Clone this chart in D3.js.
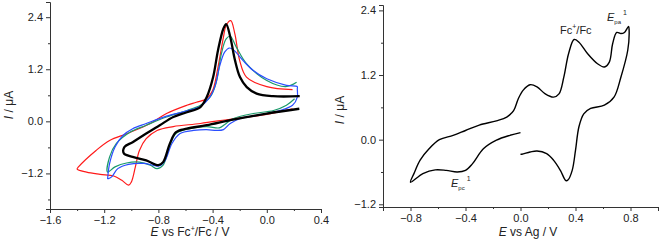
<!DOCTYPE html>
<html>
<head>
<meta charset="utf-8">
<script src="https://cdn.jsdelivr.net/npm/d3@7"></script>
<style>
  body { margin: 0; background: #fff; }
  svg text { font-family: "Liberation Sans", Arial, sans-serif; fill: #222; }
</style>
</head>
<body>
<div id="chart"></div>
<script>
/* left panel: CVs vs Fc+/Fc, each [E (V), I (uA)] along the trace */
var blackCV = [[0.24,0.29],[0.0,0.18],[-0.25,0.04],[-0.445,-0.09],[-0.59,-0.17],[-0.67,-0.25],[-0.715,-0.51],
  [-0.765,-0.94],[-0.80,-1.01],[-0.89,-0.90],[-0.99,-0.82],[-1.055,-0.74],[-1.05,-0.59],[-0.99,-0.48],
  [-0.89,-0.28],[-0.79,-0.09],[-0.69,0.10],[-0.59,0.21],[-0.49,0.33],[-0.443,0.56],[-0.396,1.02],
  [-0.36,1.64],[-0.32,2.14],[-0.30,2.24],[-0.27,1.95],[-0.235,1.41],[-0.198,1.02],[-0.148,0.79],
  [-0.075,0.64],[0.046,0.58],[0.243,0.58]]
var redCV = [[0.19,0.29],[0.0,0.16],[-0.25,0.06],[-0.49,-0.05],[-0.69,-0.12],[-0.81,-0.21],[-0.89,-0.40],
  [-0.94,-0.67],[-0.97,-1.05],[-1.0,-1.40],[-1.02,-1.47],[-1.07,-1.36],[-1.13,-1.26],[-1.23,-1.22],
  [-1.33,-1.17],[-1.40,-1.10],[-1.39,-1.05],[-1.26,-0.67],[-1.16,-0.44],[-1.03,-0.28],[-0.86,-0.05],
  [-0.74,0.18],[-0.59,0.37],[-0.52,0.44],[-0.445,0.52],[-0.40,0.71],[-0.36,1.25],[-0.32,1.94],
  [-0.30,2.21],[-0.266,2.32],[-0.236,2.02],[-0.20,1.40],[-0.15,1.02],[0.0,0.80],[0.19,0.73]]
var greenCV = [[0.205,0.52],[0.145,0.37],[0.05,0.25],[-0.10,0.18],[-0.25,0.06],[-0.31,-0.07],[-0.35,-0.15],
  [-0.445,-0.12],[-0.57,-0.17],[-0.67,-0.28],[-0.715,-0.55],[-0.765,-1.01],[-0.81,-1.09],[-0.86,-1.01],
  [-0.94,-0.94],[-1.035,-0.96],[-1.12,-1.05],[-1.175,-1.17],[-1.16,-0.82],[-1.11,-0.51],[-1.01,-0.25],
  [-0.89,-0.09],[-0.74,0.10],[-0.59,0.25],[-0.49,0.37],[-0.41,0.60],[-0.37,0.94],[-0.335,1.56],
  [-0.30,1.90],[-0.27,1.96],[-0.225,1.71],[-0.15,1.33],[0.0,0.94],[0.14,0.80],[0.22,0.90]]
var blueCV = [[-1.175,-1.33],[-1.16,-0.97],[-1.12,-0.59],[-1.06,-0.32],[-0.99,-0.17],[-0.89,-0.05],[-0.74,0.12],
  [-0.59,0.24],[-0.49,0.35],[-0.42,0.56],[-0.38,0.83],[-0.35,1.25],[-0.31,1.60],[-0.275,1.69],[-0.24,1.63],
  [-0.175,1.40],[-0.10,1.17],[0.0,0.98],[0.145,0.83],[0.225,0.80],[0.225,0.75],[0.225,0.56],[0.19,0.37],
  [0.095,0.25],[-0.05,0.15],[-0.20,0.06],[-0.27,-0.05],[-0.32,-0.19],[-0.37,-0.21],[-0.445,-0.19],
  [-0.54,-0.21],[-0.64,-0.28],[-0.70,-0.51],[-0.75,-0.90],[-0.795,-1.03],[-0.84,-1.01],[-0.91,-0.97],
  [-1.02,-0.99],[-1.10,-1.09],[-1.145,-1.28],[-1.175,-1.33]]

/* right panel: CV vs Ag */
var agCV = [[0.0,0.13],[-0.077,0.08],[-0.175,-0.01],[-0.27,-0.17],[-0.35,-0.45],[-0.40,-0.57],[-0.46,-0.60],
  [-0.54,-0.57],[-0.62,-0.56],[-0.71,-0.63],[-0.80,-0.79],[-0.775,-0.63],[-0.73,-0.38],[-0.665,-0.17],
  [-0.59,0.0],[-0.49,0.08],[-0.40,0.17],[-0.30,0.27],[-0.175,0.35],[-0.10,0.42],[-0.05,0.54],[-0.016,0.76],
  [0.02,0.92],[0.07,1.02],[0.12,0.98],[0.18,0.85],[0.24,0.79],[0.28,0.85],[0.315,1.16],[0.35,1.60],
  [0.39,1.86],[0.425,1.81],[0.487,1.60],[0.56,1.41],[0.61,1.35],[0.646,1.44],[0.67,1.78],[0.70,1.99],
  [0.73,1.97],[0.756,1.99],[0.786,2.10],[0.79,2.03],[0.78,1.66],[0.73,1.16],[0.68,0.79],[0.61,0.64],
  [0.51,0.58],[0.46,0.48],[0.425,0.24],[0.40,-0.20],[0.376,-0.57],[0.345,-0.75],[0.33,-0.76],[0.29,-0.57],
  [0.24,-0.38],[0.19,-0.26],[0.12,-0.21],[0.07,-0.23],[0.01,-0.27],[0.0,-0.27]]

/* tick values */
var leftXTicks = [-1.6,-1.2,-0.8,-0.4,0.0,0.4]
var leftYTicks = [-1.2,0.0,1.2,2.4]
var rightXTicks = [-0.8,-0.4,0.0,0.4,0.8]
var rightYTicks = [-1.2,0.0,1.2,2.4]

var svg = d3.select("#chart").append("svg")
  .attr("width",659)
  .attr("height",245)

/* scales */
var xL = d3.scaleLinear().domain([-1.6,0.4]).range([50,321])
var yL = d3.scaleLinear().domain([-2.02,2.75]).range([209,2])
var xR = d3.scaleLinear().domain([-1.0,1.0]).range([383,658])
var yR = d3.scaleLinear().domain([-1.25,2.5]).range([207,5])

function drawAxes(x, y, xTicks, yTicks, xMinor, yMinor) {
  var x0 = x.range()[0], y0 = y.range()[0]
  var gx = svg.append("g").attr("transform","translate(0," + y0 + ")")
    .call(d3.axisBottom(x).tickValues(xTicks).tickSize(4).tickPadding(3).tickFormat(d3.format(".1f")))
  gx.append("g").call(d3.axisBottom(x).tickValues(xMinor).tickSize(2).tickFormat(""))
    .select(".domain").remove()
  var gy = svg.append("g").attr("transform","translate(" + x0 + ",0)")
    .call(d3.axisLeft(y).tickValues(yTicks).tickSize(4).tickPadding(3).tickFormat(d3.format(".1f")))
  gy.append("g").call(d3.axisLeft(y).tickValues(yMinor).tickSize(2).tickFormat(""))
    .select(".domain").remove()
  svg.selectAll(".domain, .tick line").attr("stroke","#333").attr("stroke-width",1)
  svg.selectAll(".tick text").attr("font-size",11).attr("fill","#222")
    .attr("font-family","Liberation Sans, Arial, sans-serif")
}

drawAxes(xL, yL, leftXTicks, leftYTicks, [-1.4,-1.0,-0.6,-0.2,0.2], [-1.8,-0.6,0.6,1.8])
drawAxes(xR, yR, rightXTicks, rightYTicks, [-1.0,-0.6,-0.2,0.2,0.6,1.0], [-0.6,0.6,1.8])

/* curves */
function drawCV(data, x, y, color, width) {
  var line = d3.line()
    .x(function(d) { return x(d[0]) })
    .y(function(d) { return y(d[1]) })
    .curve(d3.curveCatmullRom.alpha(0.5))
  svg.append("path")
    .attr("d",line(data))
    .attr("fill","none")
    .attr("stroke",color)
    .attr("stroke-width",width)
    .attr("stroke-linejoin","round")
}
drawCV(redCV, xL, yL, "#ff1a1a", 1.2)
drawCV(greenCV, xL, yL, "#1b9a6b", 1.2)
drawCV(blueCV, xL, yL, "#2a4dff", 1.2)
drawCV(blackCV, xL, yL, "#000", 2.3)
drawCV(agCV, xR, yR, "#000", 1.4)

/* axis titles */
function yTitle(cx, cy) {
  var t = svg.append("text")
    .attr("transform","translate(" + cx + "," + cy + ") rotate(-90)")
    .attr("text-anchor","middle")
    .attr("font-size",12)
  t.append("tspan").attr("font-style","italic").text("I")
  t.append("tspan").text(" / μA")
}
yTitle(13, 105)
yTitle(344, 110)

var xt = svg.append("text").attr("x",190).attr("y",236)
  .attr("text-anchor","middle").attr("font-size",12)
xt.append("tspan").attr("font-style","italic").text("E")
xt.append("tspan").text(" vs Fc")
xt.append("tspan").attr("font-size",7).attr("dy",-5).text("+")
xt.append("tspan").attr("dy",5).text("/Fc / V")

var xt2 = svg.append("text").attr("x",528).attr("y",236)
  .attr("text-anchor","middle").attr("font-size",12)
xt2.append("tspan").attr("font-style","italic").text("E")
xt2.append("tspan").text(" vs Ag / V")

/* annotations */
var fc = svg.append("text").attr("x",560).attr("y",34).attr("font-size",11)
fc.append("tspan").text("Fc")
fc.append("tspan").attr("font-size",7).attr("dy",-5).text("+")
fc.append("tspan").attr("dy",5).text("/Fc")

function peakLabel(px, py, sub) {
  var t = svg.append("text").attr("x",px).attr("y",py).attr("font-size",11)
  t.append("tspan").attr("font-style","italic").text("E")
  t.append("tspan").attr("font-size",6).attr("dy",3).text(sub)
  t.append("tspan").attr("font-size",7).attr("dx",2).attr("dy",-9).text("1")
}
peakLabel(607, 21, "pa")
peakLabel(451, 187, "pc")
</script>
</body>
</html>
